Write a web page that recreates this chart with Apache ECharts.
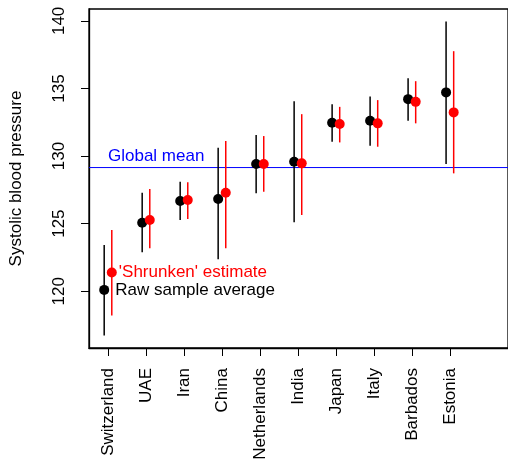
<!DOCTYPE html>
<html lang="en">
<head>
<meta charset="UTF-8">
<title>Systolic blood pressure</title>
<script src="https://cdn.jsdelivr.net/npm/echarts@6/dist/echarts.min.js"></script>
<style>
  html, body { margin: 0; padding: 0; background: #fff; }
  #main { width: 508px; height: 465px; }
</style>
</head>
<body>
<div id="main"></div>
<script type="text/javascript">
// data
var countries = ['Switzerland', 'UAE', 'Iran', 'China', 'Netherlands', 'India', 'Japan', 'Italy', 'Barbados', 'Estonia'];
var rawMean  = [120.1, 125.07, 126.67, 126.82, 129.41, 129.58, 132.46, 132.61, 134.21, 134.71];
var rawLow   = [116.72, 122.88, 125.27, 122.36, 127.24, 125.1, 131.06, 130.76, 132.61, 129.41];
var rawHigh  = [123.42, 127.29, 128.1, 130.61, 131.55, 134.06, 133.84, 134.41, 135.76, 139.96];
var shrMean  = [121.38, 125.27, 126.75, 127.29, 129.41, 129.46, 132.37, 132.42, 134.01, 133.23];
var shrLow   = [118.2, 123.18, 125.34, 123.18, 127.36, 125.64, 131.01, 130.69, 132.42, 128.72];
var shrHigh  = [124.53, 127.56, 128.06, 131.11, 131.48, 133.1, 133.64, 134.14, 135.54, 137.76];
var globalMean = 129.15;
var yTicks = [120, 125, 130, 135, 140];

var font = "'Liberation Sans', Arial, Helvetica, sans-serif";
var shift = 0.1; // side-by-side offset of the two estimates
var xMin = -0.5, xMax = 10.53;

var idx = countries.map(function (c, i) { return i; });

function points(mean, dx) {
    return mean.map(function (v, i) { return [i + dx, v]; });
}
function bars(lo, hi, dx) {
    return lo.map(function (v, i) { return [i + dx, v, hi[i]]; });
}
function barRenderer(color) {
    return function (params, api) {
        var a = api.coord([api.value(0), api.value(1)]);
        var b = api.coord([api.value(0), api.value(2)]);
        return {
            type: 'line',
            shape: {x1: a[0], y1: a[1], x2: b[0], y2: b[1]},
            style: {stroke: color, lineWidth: 1.5}
        };
    };
}

var rawPts = points(rawMean, -shift);
var shrPts = points(shrMean, shift);
rawPts[0] = {value: rawPts[0], label: {show: true, position: 'right', distance: 6, formatter: 'Raw sample average', color: '#000'}};
shrPts[0] = {value: shrPts[0], label: {show: true, position: 'right', distance: 2, formatter: "'Shrunken' estimate", color: '#ff0000'}};

var myChart = echarts.init(document.getElementById('main'), null, {renderer: 'canvas'});

var option = {
    animation: false,
    backgroundColor: '#fff',
    textStyle: {fontFamily: font},
    grid: {
        left: 89,
        top: 9,
        width: 424,
        height: 339,
        show: true,
        borderColor: '#000',
        borderWidth: 1.3,
        containLabel: false
    },
    xAxis: {
        type: 'value',
        min: xMin,
        max: xMax,
        splitLine: {show: false},
        axisLine: {show: true, onZero: false, lineStyle: {color: '#000', width: 1.3}},
        axisTick: {show: true, length: 8, customValues: idx, lineStyle: {color: '#000'}},
        axisLabel: {
            customValues: idx,
            rotate: 90,
            margin: 20,
            fontSize: 17,
            color: '#000',
            fontFamily: font,
            formatter: function (v) { return countries[Math.round(v)]; }
        }
    },
    yAxis: {
        type: 'value',
        min: 115.8,
        max: 140.88,
        name: 'Systolic blood pressure',
        nameLocation: 'middle',
        nameGap: 64,
        nameTextStyle: {fontSize: 17, color: '#000', fontFamily: font},
        splitLine: {show: false},
        axisLine: {show: true, onZero: false, lineStyle: {color: '#000', width: 1.3}},
        axisTick: {show: true, length: 8, customValues: yTicks, lineStyle: {color: '#000'}},
        axisLabel: {
            customValues: yTicks,
            rotate: 90,
            margin: 21,
            fontSize: 17,
            color: '#000',
            fontFamily: font
        }
    },
    series: [
        {
            // global mean reference line with its label
            type: 'custom',
            silent: true,
            renderItem: function (params, api) {
                var v = api.value(0);
                var a = api.coord([xMin, v]);
                var b = api.coord([xMax, v]);
                var t = api.coord([0, 130]);
                return {
                    type: 'group',
                    children: [
                        {
                            type: 'line',
                            shape: {x1: a[0], y1: a[1], x2: b[0], y2: b[1]},
                            style: {stroke: '#0000ff', lineWidth: 1}
                        },
                        {
                            type: 'text',
                            x: t[0],
                            y: t[1],
                            style: {
                                text: 'Global mean',
                                fill: '#0000ff',
                                font: '17px ' + font,
                                align: 'left',
                                verticalAlign: 'middle'
                            }
                        }
                    ]
                };
            },
            data: [[globalMean]],
            z: 1
        },
        {
            type: 'custom',
            renderItem: barRenderer('#000'),
            data: bars(rawLow, rawHigh, -shift),
            z: 2
        },
        {
            type: 'scatter',
            symbolSize: 10,
            itemStyle: {color: '#000', opacity: 1},
            label: {fontSize: 17, fontFamily: font},
            data: rawPts,
            z: 3
        },
        {
            type: 'custom',
            renderItem: barRenderer('#ff0000'),
            data: bars(shrLow, shrHigh, shift),
            z: 4
        },
        {
            type: 'scatter',
            symbolSize: 10,
            itemStyle: {color: '#ff0000', opacity: 1},
            label: {fontSize: 17, fontFamily: font},
            data: shrPts,
            z: 5
        }
    ]
};

myChart.setOption(option);
</script>
</body>
</html>
